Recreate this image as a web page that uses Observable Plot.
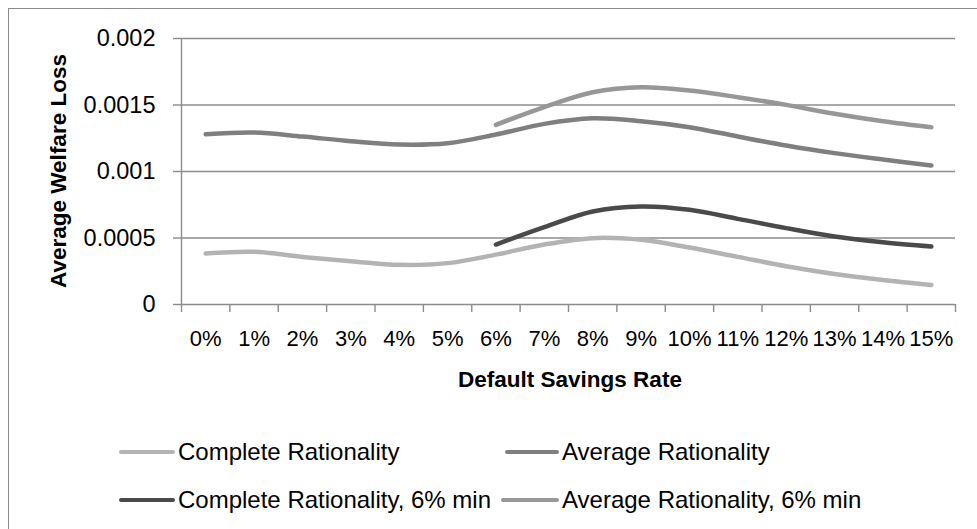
<!DOCTYPE html>
<html>
<head>
<meta charset="utf-8">
<script src="https://cdn.jsdelivr.net/npm/d3@7"></script>
<script src="https://cdn.jsdelivr.net/npm/@observablehq/plot@0.6"></script>
<style>
  html, body { margin: 0; padding: 0; background: #fff; }
  #wrap { position: relative; width: 977px; height: 529px; overflow: hidden; font-family: "Liberation Sans", Arial, sans-serif; color: #000; }
  #border { position: absolute; left: 8px; top: 8px; width: 1000px; height: 600px; border-top: 1.5px solid #8c8c8c; border-left: 1.5px solid #8c8c8c; }
  #chart { position: absolute; left: 0; top: 0; }
  .title { position: absolute; font-weight: bold; font-size: 22.5px; line-height: 22px; white-space: nowrap; text-align: center; }
  .leg { position: absolute; font-size: 24px; line-height: 24px; white-space: nowrap; }
  .sw { position: absolute; height: 4.5px; border-radius: 2px; }
</style>
</head>
<body>
<div id="wrap">
  <div id="border"></div>
  <div id="chart"></div>
</div>
<script>
// ---- data ----
const categories = ["0%","1%","2%","3%","4%","5%","6%","7%","8%","9%","10%","11%","12%","13%","14%","15%"];
const seriesNames = ["Complete Rationality","Average Rationality","Complete Rationality, 6% min","Average Rationality, 6% min"];
const seriesColors = ["#b3b3b3","#7f7f7f","#4a4a4a","#979797"];
const completeRationality = [0.000383,0.000396,0.000358,0.000326,0.000298,0.000311,0.000375,0.000451,0.000499,0.000486,0.000428,0.000358,0.000288,0.000230,0.000185,0.000147];
const averageRationality = [0.00128,0.001293,0.001263,0.001228,0.001203,0.001213,0.001278,0.001358,0.0014,0.001378,0.001333,0.001263,0.001195,0.001138,0.00109,0.001045];
const completeRationality6 = [null,null,null,null,null,null,0.000451,0.000581,0.000699,0.000737,0.000712,0.000644,0.000574,0.000511,0.000468,0.000436];
const averageRationality6 = [null,null,null,null,null,null,0.001351,0.001484,0.001596,0.001634,0.001609,0.001559,0.001501,0.001434,0.001378,0.001333];
const yTicks = [0,0.0005,0.001,0.0015,0.002];
const xTitle = "Default Savings Rate";
const yTitle = "Average Welfare Loss";

// ---- build table ----
const seriesValues = [completeRationality, averageRationality, completeRationality6, averageRationality6];
const rows = [];
seriesValues.forEach((vals, k) => vals.forEach((v, i) => { if (v != null) rows.push({i, v, s: seriesNames[k]}); }));
const idx = d3.range(categories.length);
const boundaries = d3.range(categories.length + 1).map(k => k - 0.5);
const xDomain = [-0.5, categories.length - 0.5];
const gridColor = "#8c8c8c";

const chart = Plot.plot({
  width: 977, height: 529,
  marginLeft: 181, marginRight: 22, marginTop: 38, marginBottom: 225,
  x: {domain: xDomain},
  y: {domain: [0, 0.002]},
  color: {domain: seriesNames, range: seriesColors},
  style: {fontFamily: "Liberation Sans, Arial, sans-serif", fontSize: "22px", background: "transparent", color: "#000", overflow: "visible"},
  marks: [
    Plot.gridY(yTicks, {stroke: gridColor, strokeOpacity: 1, strokeWidth: 1.4}),
    Plot.axisY(yTicks, {tickSize: 8, tickPadding: 18, tickFormat: d => String(d), label: null, stroke: gridColor, strokeWidth: 1.4, fontSize: 23.5}),
    Plot.ruleX([xDomain[0]], {stroke: gridColor, strokeWidth: 1.4}),
    Plot.axisX(boundaries, {tickSize: 8, tickFormat: () => "", label: null, stroke: gridColor, strokeWidth: 1.4}),
    Plot.axisX(idx, {tickSize: 0, tickPadding: 26, tickFormat: i => categories[i], label: null, fontSize: 22}),
    Plot.line(rows, {x: "i", y: "v", z: "s", stroke: "s", strokeWidth: 4.5, curve: "catmull-rom", strokeLinecap: "round", strokeLinejoin: "round"})
  ]
});
document.getElementById("chart").appendChild(chart);

const wrap = document.getElementById("wrap");
// axis titles
const xt = document.createElement("div");
xt.className = "title"; xt.textContent = xTitle;
xt.style.left = "370px"; xt.style.width = "400px"; xt.style.top = "369px";
wrap.appendChild(xt);
const yt = document.createElement("div");
yt.className = "title"; yt.textContent = yTitle;
yt.style.left = (59 - 150) + "px"; yt.style.width = "300px"; yt.style.top = (171 - 11) + "px"; yt.style.height = "22px";
yt.style.transform = "rotate(-90deg)"; yt.style.transformOrigin = "150px 11px";
wrap.appendChild(yt);

// legend
const legPos = [
  {sx: 119, sw: 56, tx: 178, cy: 452, top: 440},
  {sx: 505, sw: 54, tx: 562, cy: 452, top: 440},
  {sx: 119, sw: 56, tx: 178, cy: 500, top: 488},
  {sx: 501, sw: 58, tx: 562, cy: 500, top: 488}
];
seriesNames.forEach((name, k) => {
  const p = legPos[k];
  const sw = document.createElement("div");
  sw.className = "sw";
  sw.style.left = p.sx + "px"; sw.style.width = p.sw + "px"; sw.style.top = (p.cy - 2.25) + "px";
  sw.style.background = seriesColors[k];
  wrap.appendChild(sw);
  const t = document.createElement("div");
  t.className = "leg"; t.textContent = name;
  t.style.left = p.tx + "px"; t.style.top = p.top + "px";
  wrap.appendChild(t);
});
</script>
</body>
</html>
